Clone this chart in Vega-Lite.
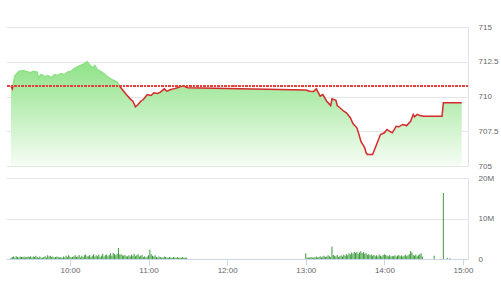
{
  "$schema": "https://vega.github.io/schema/vega-lite/v6.json",
  "padding": {"left": 5, "top": 23, "right": 0, "bottom": 0},
  "background": "white",
  "config": {
    "view": {"stroke": null},
    "font": "Liberation Sans",
    "axis": {"labelFont": "Liberation Sans", "labelFontSize": 8, "labelColor": "#666666", "title": null}
  },
  "spacing": 12,
  "bounds": "flush",
  "resolve": {"scale": {"x": "shared"}},
  "vconcat": [
    {
      "width": 462,
      "height": 139,
      "data": {
        "format": {"parse": {"t": "date:'%H:%M'"}},
        "values": [
          {"t": "09:15", "p": 710.72}, {"t": "09:16", "p": 710.55}, {"t": "09:18", "p": 711.51}, {"t": "09:21", "p": 711.8},
          {"t": "09:24", "p": 711.87}, {"t": "09:26", "p": 711.82}, {"t": "09:30", "p": 711.71}, {"t": "09:32", "p": 711.82},
          {"t": "09:35", "p": 711.75}, {"t": "09:36", "p": 711.35}, {"t": "09:38", "p": 711.58}, {"t": "09:41", "p": 711.42},
          {"t": "09:43", "p": 711.51}, {"t": "09:46", "p": 711.35}, {"t": "09:48", "p": 711.58}, {"t": "09:51", "p": 711.51},
          {"t": "09:53", "p": 711.65}, {"t": "09:56", "p": 711.58}, {"t": "09:58", "p": 711.75}, {"t": "10:01", "p": 711.82},
          {"t": "10:03", "p": 711.99}, {"t": "10:06", "p": 712.14}, {"t": "10:08", "p": 712.23}, {"t": "10:11", "p": 712.37},
          {"t": "10:13", "p": 712.5}, {"t": "10:15", "p": 712.3}, {"t": "10:17", "p": 712.06}, {"t": "10:19", "p": 712.23},
          {"t": "10:21", "p": 711.94}, {"t": "10:23", "p": 711.82}, {"t": "10:26", "p": 711.65}, {"t": "10:28", "p": 711.46},
          {"t": "10:31", "p": 711.27}, {"t": "10:33", "p": 711.17}, {"t": "10:36", "p": 711.03}, {"t": "10:38", "p": 710.74},
          {"t": "10:41", "p": 710.38}, {"t": "10:43", "p": 710.14}, {"t": "10:46", "p": 709.83}, {"t": "10:48", "p": 709.66},
          {"t": "10:50", "p": 709.26}, {"t": "10:52", "p": 709.42}, {"t": "10:54", "p": 709.66}, {"t": "10:56", "p": 709.78},
          {"t": "10:58", "p": 710.02}, {"t": "10:59", "p": 710.14}, {"t": "11:02", "p": 710.07}, {"t": "11:04", "p": 710.27},
          {"t": "11:07", "p": 710.22}, {"t": "11:09", "p": 710.31}, {"t": "11:12", "p": 710.55}, {"t": "11:14", "p": 710.38},
          {"t": "11:17", "p": 710.5}, {"t": "11:19", "p": 710.55}, {"t": "11:22", "p": 710.63}, {"t": "11:24", "p": 710.7},
          {"t": "11:27", "p": 710.8}, {"t": "11:28", "p": 710.7}, {"t": "11:30", "p": 710.63},
          {"t": "13:00", "p": 710.47}, {"t": "13:03", "p": 710.38}, {"t": "13:06", "p": 710.36}, {"t": "13:08", "p": 710.55},
          {"t": "13:11", "p": 710.02}, {"t": "13:13", "p": 710.14}, {"t": "13:16", "p": 709.66}, {"t": "13:19", "p": 709.35},
          {"t": "13:20", "p": 709.83}, {"t": "13:23", "p": 709.73}, {"t": "13:24", "p": 709.35}, {"t": "13:26", "p": 709.19},
          {"t": "13:29", "p": 708.94}, {"t": "13:31", "p": 708.83}, {"t": "13:34", "p": 708.47}, {"t": "13:36", "p": 708.06},
          {"t": "13:39", "p": 707.75}, {"t": "13:41", "p": 707.14}, {"t": "13:42", "p": 706.78}, {"t": "13:45", "p": 706.31},
          {"t": "13:46", "p": 705.95}, {"t": "13:47", "p": 705.83}, {"t": "13:51", "p": 705.83}, {"t": "13:52", "p": 706.06},
          {"t": "13:55", "p": 706.78}, {"t": "13:57", "p": 707.27}, {"t": "14:00", "p": 707.39}, {"t": "14:02", "p": 707.63},
          {"t": "14:04", "p": 707.5}, {"t": "14:06", "p": 707.39}, {"t": "14:09", "p": 707.86}, {"t": "14:11", "p": 707.82},
          {"t": "14:14", "p": 707.99}, {"t": "14:17", "p": 707.91}, {"t": "14:20", "p": 708.22}, {"t": "14:22", "p": 708.71},
          {"t": "14:23", "p": 708.54}, {"t": "14:25", "p": 708.71}, {"t": "14:27", "p": 708.63}, {"t": "14:30", "p": 708.58},
          {"t": "14:44", "p": 708.58}, {"t": "14:45", "p": 709.55}, {"t": "14:59", "p": 709.55}
        ]
      },
      "layer": [
        {
          "encoding": {
            "x": {
              "field": "t", "type": "temporal",
              "scale": {"nice": false, "domain": [{"year": 1900, "month": 1, "date": 1, "hours": 9, "minutes": 15}, {"year": 1900, "month": 1, "date": 1, "hours": 15, "minutes": 0}]},
              "axis": null
            },
            "y": {
              "field": "p", "type": "quantitative",
              "scale": {"domain": [705, 715], "nice": false, "zero": false},
              "axis": {"orient": "right", "values": [705, 707.5, 710, 712.5, 715], "tickCount": 5, "labelExpr": "'' + datum.value", "grid": true, "gridColor": "#e6e6e6", "gridWidth": 1, "domain": true, "domainColor": "#e0e0e0", "ticks": false, "labelPadding": 10, "labelFlush": false, "labelOverlap": false}
            }
          },
          "layer": [
            {
              "mark": {
                "type": "area",
                "fill": {"gradient": "linear", "x1": 0, "y1": 0, "x2": 0, "y2": 1, "stops": [{"offset": 0, "color": "#8ee286"}, {"offset": 1, "color": "#f6fdf5"}]}
              },
              "encoding": {"y2": {"datum": 705}}
            },
            {
              "mark": {
                "type": "line", "strokeWidth": 1.5,
                "stroke": {"gradient": "linear", "x1": 0, "y1": 0, "x2": 0, "y2": 1, "stops": [{"offset": 0, "color": "#8ee286"}, {"offset": 0.262, "color": "#8ee286"}, {"offset": 0.265, "color": "#d42a2a"}, {"offset": 1, "color": "#d42a2a"}]}
              },
              "encoding": {}
            }
          ]
        },
        {
          "mark": {"type": "rule", "stroke": "#e5423c", "strokeDash": [2, 1.5], "strokeWidth": 1, "opacity": 0.85},
          "encoding": {
            "y": {
              "datum": 710.74, "type": "quantitative",
              "axis": {"orient": "right", "values": [705, 707.5, 710, 712.5, 715], "tickCount": 5, "labelExpr": "'' + datum.value", "grid": true, "gridColor": "#e6e6e6", "gridWidth": 1, "domain": true, "domainColor": "#e0e0e0", "ticks": false, "labelPadding": 10, "labelFlush": false, "labelOverlap": false}
            }
          }
        }
      ]
    },
    {
      "width": 462,
      "height": 81,
      "data": {
        "format": {"parse": {"t": "date:'%H:%M'"}},
        "values": [
          {"t": "09:15", "v": 0.3}, {"t": "09:16", "v": 0.5}, {"t": "09:17", "v": 0.6}, {"t": "09:18", "v": 0.4}, {"t": "09:19", "v": 0.7},
          {"t": "09:20", "v": 0.5}, {"t": "09:21", "v": 0.4}, {"t": "09:22", "v": 0.6}, {"t": "09:23", "v": 0.5}, {"t": "09:24", "v": 0.5},
          {"t": "09:25", "v": 0.6}, {"t": "09:26", "v": 0.4}, {"t": "09:27", "v": 0.5}, {"t": "09:28", "v": 0.6}, {"t": "09:29", "v": 0.5},
          {"t": "09:30", "v": 0.7}, {"t": "09:31", "v": 0.4}, {"t": "09:32", "v": 0.6}, {"t": "09:33", "v": 0.5}, {"t": "09:34", "v": 0.8},
          {"t": "09:35", "v": 0.5}, {"t": "09:36", "v": 0.3}, {"t": "09:37", "v": 0.6}, {"t": "09:38", "v": 0.4}, {"t": "09:39", "v": 0.3},
          {"t": "09:40", "v": 0.5}, {"t": "09:41", "v": 0.7}, {"t": "09:42", "v": 0.4}, {"t": "09:43", "v": 0.9}, {"t": "09:44", "v": 0.6},
          {"t": "09:45", "v": 0.8}, {"t": "09:46", "v": 0.5}, {"t": "09:47", "v": 0.6}, {"t": "09:48", "v": 0.4}, {"t": "09:49", "v": 0.5},
          {"t": "09:50", "v": 0.6}, {"t": "09:51", "v": 0.5}, {"t": "09:52", "v": 0.4}, {"t": "09:53", "v": 0.5}, {"t": "09:54", "v": 0.3},
          {"t": "09:55", "v": 0.6}, {"t": "09:56", "v": 0.4}, {"t": "09:57", "v": 0.8}, {"t": "09:58", "v": 0.5}, {"t": "09:59", "v": 0.9},
          {"t": "10:00", "v": 0.6}, {"t": "10:01", "v": 0.4}, {"t": "10:02", "v": 0.5}, {"t": "10:03", "v": 0.7}, {"t": "10:04", "v": 0.9},
          {"t": "10:05", "v": 0.5}, {"t": "10:06", "v": 0.6}, {"t": "10:07", "v": 1.0}, {"t": "10:08", "v": 0.4}, {"t": "10:09", "v": 0.8},
          {"t": "10:10", "v": 0.5}, {"t": "10:11", "v": 0.9}, {"t": "10:12", "v": 1.1}, {"t": "10:13", "v": 0.6}, {"t": "10:14", "v": 0.7},
          {"t": "10:15", "v": 1.0}, {"t": "10:16", "v": 0.5}, {"t": "10:17", "v": 0.8}, {"t": "10:18", "v": 1.2}, {"t": "10:19", "v": 0.6},
          {"t": "10:20", "v": 0.9}, {"t": "10:21", "v": 0.7}, {"t": "10:22", "v": 1.1}, {"t": "10:23", "v": 0.5}, {"t": "10:24", "v": 0.8},
          {"t": "10:25", "v": 1.3}, {"t": "10:26", "v": 0.6}, {"t": "10:27", "v": 0.9}, {"t": "10:28", "v": 1.1}, {"t": "10:29", "v": 0.7},
          {"t": "10:30", "v": 1.0}, {"t": "10:31", "v": 1.4}, {"t": "10:32", "v": 0.8}, {"t": "10:33", "v": 1.5}, {"t": "10:34", "v": 1.2},
          {"t": "10:35", "v": 0.9}, {"t": "10:36", "v": 1.3}, {"t": "10:37", "v": 2.7}, {"t": "10:38", "v": 1.1}, {"t": "10:39", "v": 1.2},
          {"t": "10:40", "v": 0.9}, {"t": "10:41", "v": 0.8}, {"t": "10:42", "v": 1.0}, {"t": "10:43", "v": 0.6}, {"t": "10:44", "v": 0.7},
          {"t": "10:45", "v": 0.9}, {"t": "10:46", "v": 0.6}, {"t": "10:47", "v": 1.1}, {"t": "10:48", "v": 0.8}, {"t": "10:49", "v": 1.3},
          {"t": "10:50", "v": 0.7}, {"t": "10:51", "v": 0.9}, {"t": "10:52", "v": 1.2}, {"t": "10:53", "v": 0.6}, {"t": "10:54", "v": 0.8},
          {"t": "10:55", "v": 1.0}, {"t": "10:56", "v": 0.5}, {"t": "10:57", "v": 0.7}, {"t": "10:58", "v": 0.4}, {"t": "10:59", "v": 0.6},
          {"t": "11:00", "v": 0.9}, {"t": "11:01", "v": 2.3}, {"t": "11:02", "v": 1.2}, {"t": "11:03", "v": 0.8}, {"t": "11:04", "v": 0.6},
          {"t": "11:05", "v": 0.9}, {"t": "11:06", "v": 0.5}, {"t": "11:07", "v": 0.4}, {"t": "11:08", "v": 0.6}, {"t": "11:09", "v": 0.5},
          {"t": "11:10", "v": 0.3}, {"t": "11:11", "v": 0.4}, {"t": "11:12", "v": 0.6}, {"t": "11:13", "v": 0.5}, {"t": "11:14", "v": 0.4},
          {"t": "11:15", "v": 0.3}, {"t": "11:16", "v": 0.5}, {"t": "11:17", "v": 0.4}, {"t": "11:18", "v": 0.3}, {"t": "11:19", "v": 0.5},
          {"t": "11:20", "v": 0.4}, {"t": "11:21", "v": 0.3}, {"t": "11:22", "v": 0.5}, {"t": "11:23", "v": 0.3}, {"t": "11:24", "v": 0.4},
          {"t": "11:25", "v": 0.3}, {"t": "11:26", "v": 0.5}, {"t": "11:27", "v": 0.3}, {"t": "11:28", "v": 0.4}, {"t": "11:29", "v": 0.3},
          {"t": "13:00", "v": 1.4}, {"t": "13:01", "v": 0.4}, {"t": "13:02", "v": 0.3}, {"t": "13:03", "v": 0.4}, {"t": "13:04", "v": 0.5},
          {"t": "13:05", "v": 0.4}, {"t": "13:06", "v": 0.3}, {"t": "13:07", "v": 0.5}, {"t": "13:08", "v": 0.6}, {"t": "13:09", "v": 0.4},
          {"t": "13:10", "v": 0.5}, {"t": "13:11", "v": 0.7}, {"t": "13:12", "v": 0.4}, {"t": "13:13", "v": 0.6}, {"t": "13:14", "v": 0.8},
          {"t": "13:15", "v": 0.5}, {"t": "13:16", "v": 0.6}, {"t": "13:17", "v": 0.9}, {"t": "13:18", "v": 0.7}, {"t": "13:19", "v": 0.5},
          {"t": "13:20", "v": 3.0}, {"t": "13:21", "v": 1.0}, {"t": "13:22", "v": 0.8}, {"t": "13:23", "v": 0.6}, {"t": "13:24", "v": 1.0},
          {"t": "13:25", "v": 0.5}, {"t": "13:26", "v": 0.7}, {"t": "13:27", "v": 0.9}, {"t": "13:28", "v": 0.6}, {"t": "13:29", "v": 1.1},
          {"t": "13:30", "v": 0.8}, {"t": "13:31", "v": 1.2}, {"t": "13:32", "v": 0.9}, {"t": "13:33", "v": 1.4}, {"t": "13:34", "v": 1.1},
          {"t": "13:35", "v": 1.6}, {"t": "13:36", "v": 1.3}, {"t": "13:37", "v": 1.7}, {"t": "13:38", "v": 1.5}, {"t": "13:39", "v": 1.8},
          {"t": "13:40", "v": 1.2}, {"t": "13:41", "v": 1.6}, {"t": "13:42", "v": 1.9}, {"t": "13:43", "v": 1.4}, {"t": "13:44", "v": 1.7},
          {"t": "13:45", "v": 1.3}, {"t": "13:46", "v": 1.5}, {"t": "13:47", "v": 1.0}, {"t": "13:48", "v": 1.2}, {"t": "13:49", "v": 0.9},
          {"t": "13:50", "v": 1.1}, {"t": "13:51", "v": 0.8}, {"t": "13:52", "v": 1.0}, {"t": "13:53", "v": 0.7}, {"t": "13:54", "v": 0.9},
          {"t": "13:55", "v": 0.6}, {"t": "13:56", "v": 1.1}, {"t": "13:57", "v": 0.8}, {"t": "13:58", "v": 0.6}, {"t": "13:59", "v": 1.0},
          {"t": "14:00", "v": 1.2}, {"t": "14:01", "v": 1.0}, {"t": "14:02", "v": 0.8}, {"t": "14:03", "v": 0.7}, {"t": "14:04", "v": 0.9},
          {"t": "14:05", "v": 0.6}, {"t": "14:06", "v": 0.8}, {"t": "14:07", "v": 0.7}, {"t": "14:08", "v": 0.9}, {"t": "14:09", "v": 0.6},
          {"t": "14:10", "v": 0.8}, {"t": "14:11", "v": 1.0}, {"t": "14:12", "v": 0.7}, {"t": "14:13", "v": 0.9}, {"t": "14:14", "v": 0.6},
          {"t": "14:15", "v": 0.8}, {"t": "14:16", "v": 1.1}, {"t": "14:17", "v": 0.7}, {"t": "14:18", "v": 0.9}, {"t": "14:19", "v": 1.2},
          {"t": "14:20", "v": 1.9}, {"t": "14:21", "v": 1.6}, {"t": "14:22", "v": 1.0}, {"t": "14:23", "v": 0.8}, {"t": "14:24", "v": 1.1},
          {"t": "14:25", "v": 0.7}, {"t": "14:26", "v": 0.9}, {"t": "14:27", "v": 1.2}, {"t": "14:28", "v": 1.4}, {"t": "14:29", "v": 0.6},
          {"t": "14:38", "v": 0.8}, {"t": "14:45", "v": 16.3}, {"t": "14:48", "v": 0.3}, {"t": "14:50", "v": 0.2}
        ]
      },
      "mark": {"type": "bar", "width": 1, "color": "#3a9a3a"},
      "encoding": {
        "x": {
          "field": "t", "type": "temporal",
          "scale": {"nice": false, "domain": [{"year": 1900, "month": 1, "date": 1, "hours": 9, "minutes": 15}, {"year": 1900, "month": 1, "date": 1, "hours": 15, "minutes": 0}]},
          "axis": {
            "format": "%H:%M",
            "values": [
              {"year": 1900, "month": 1, "date": 1, "hours": 10, "minutes": 0},
              {"year": 1900, "month": 1, "date": 1, "hours": 11, "minutes": 0},
              {"year": 1900, "month": 1, "date": 1, "hours": 12, "minutes": 0},
              {"year": 1900, "month": 1, "date": 1, "hours": 13, "minutes": 0},
              {"year": 1900, "month": 1, "date": 1, "hours": 14, "minutes": 0},
              {"year": 1900, "month": 1, "date": 1, "hours": 15, "minutes": 0}
            ],
            "grid": false, "domainColor": "#ccd6eb", "tickColor": "#ccd6eb", "tickSize": 6, "labelPadding": 1, "labelFlush": false, "labelOverlap": false
          }
        },
        "y": {
          "field": "v", "type": "quantitative",
          "scale": {"domain": [0, 20], "nice": false},
          "axis": {"orient": "right", "values": [0, 10, 20], "labelExpr": "datum.value == 0 ? '0' : datum.value + 'M'", "grid": true, "gridColor": "#e6e6e6", "domain": true, "domainColor": "#e0e0e0", "ticks": false, "labelPadding": 10, "labelFlush": false, "labelOverlap": false}
        }
      }
    }
  ]
}
